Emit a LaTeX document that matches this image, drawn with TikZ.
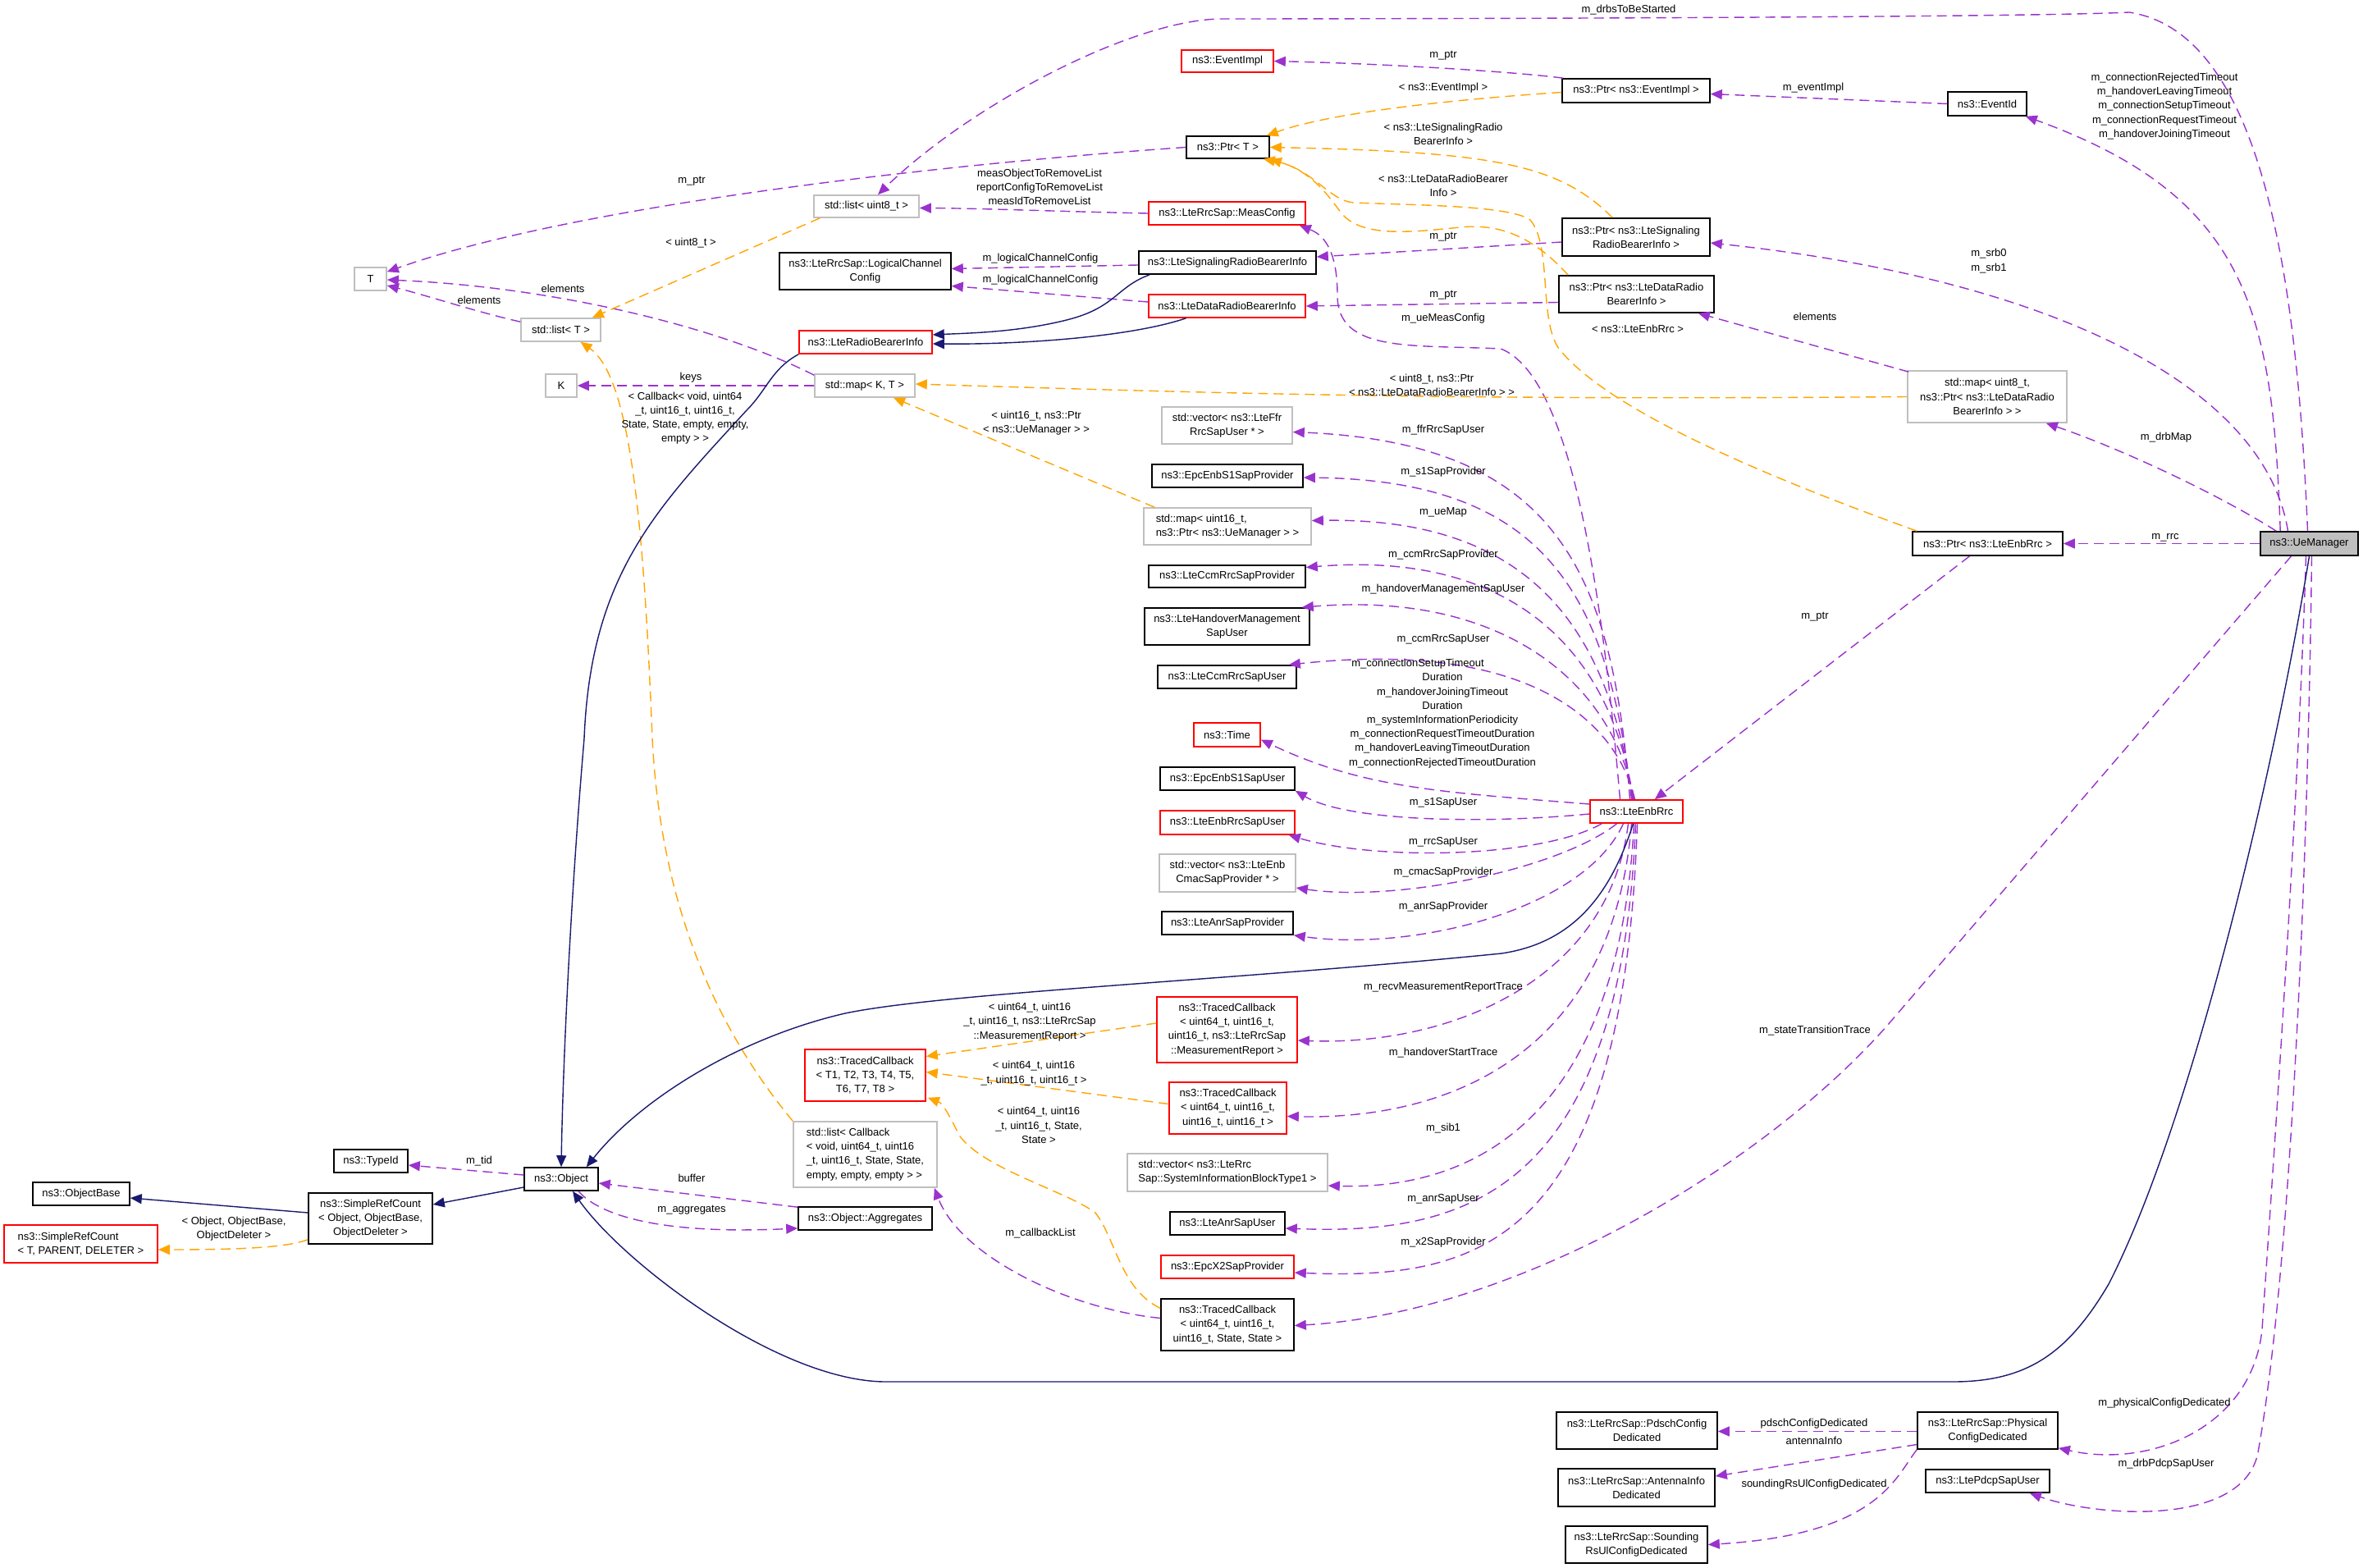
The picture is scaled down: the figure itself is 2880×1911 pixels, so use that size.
\documentclass[tikz,border=0pt]{standalone}
\usepackage{fontspec}
\setmainfont{Liberation Sans}
\usetikzlibrary{arrows.meta,calc}
\definecolor{ucol}{HTML}{9A32CD}
\definecolor{tcol}{HTML}{FFA500}
\definecolor{icol}{HTML}{191970}
\definecolor{gcol}{HTML}{BFBFBF}
\newcommand\dfont{\fontsize{6.5}{8.6}\selectfont}
\newcommand\bx[7]{%
 \pgfmathsetmacro\bxw{(#4-#2)*0.5}%
 \pgfmathsetmacro\bxh{(#5-#3)*0.5}%
 \pgfmathsetmacro\bxx{(#2+#4)/2}%
 \pgfmathsetmacro\bxy{(#3+#5)/2}%
 \node[#6, minimum width=\bxw pt, minimum height=\bxh pt] (#1) at (\bxx,\bxy) {#7};}
\tikzset{
 box/.style={draw, line width=0.8pt, inner sep=0pt, font=\dfont, align=center},
 blk/.style={box, draw=black},
 redb/.style={box, draw=red},
 grayb/.style={box, draw=gcol},
 lbl/.style={font=\dfont, align=center, inner sep=0pt},
 usedge/.style={draw=ucol, line width=0.7pt, dash pattern=on 6pt off 3.5pt, -{Triangle[length=7pt,width=6pt]}},
 tmpedge/.style={draw=tcol, line width=0.7pt, dash pattern=on 6pt off 3.5pt, -{Triangle[length=7pt,width=6pt]}},
 inhedge/.style={draw=icol, line width=0.7pt, -{Triangle[length=7pt,width=6pt]}}
}
\begin{document}
\begin{tikzpicture}[x=0.5pt,y=-0.5pt]
\fill[white] (0,0) rectangle (2880,1911);
\useasboundingbox (0,0) rectangle (2880,1911);
% ---------------- nodes
\bx{T}{432}{326}{471}{354}{grayb}{T}
\bx{listT}{635}{388}{732}{416}{grayb}{std::list< T >}
\bx{K}{665}{456}{703}{484}{grayb}{K}
\bx{mapKT}{993}{456}{1115}{484}{grayb}{std::map< K, T >}
\bx{list8}{992}{238}{1120}{265}{grayb}{std::list< uint8\_t >}
\bx{lcc}{950}{308}{1159}{353}{blk}{ns3::LteRrcSap::LogicalChannel\\Config}
\bx{lrbi}{974}{403}{1136}{431}{redb}{ns3::LteRadioBearerInfo}
\bx{evimpl}{1440}{61}{1552}{88}{redb}{ns3::EventImpl}
\bx{ptrT}{1446}{166}{1547}{193}{blk}{ns3::Ptr< T >}
\bx{meascfg}{1400}{246}{1591}{274}{redb}{ns3::LteRrcSap::MeasConfig}
\bx{lsrbi}{1388}{306}{1604}{334}{blk}{ns3::LteSignalingRadioBearerInfo}
\bx{ldrbi}{1400}{359}{1591}{387}{redb}{ns3::LteDataRadioBearerInfo}
\bx{vffr}{1416}{496}{1575}{541}{grayb}{std::vector< ns3::LteFfr\\RrcSapUser * >}
\bx{sprov}{1404}{566}{1588}{594}{blk}{ns3::EpcEnbS1SapProvider}
\bx{mapsixteen}{1394}{619}{1598}{664}{grayb,align=left}{std::map< uint16\_t,\\ ns3::Ptr< ns3::UeManager > >}
\bx{ccmprov}{1400}{689}{1591}{716}{blk}{ns3::LteCcmRrcSapProvider}
\bx{homsap}{1395}{741}{1596}{786}{blk}{ns3::LteHandoverManagement\\SapUser}
\bx{ccmuser}{1411}{811}{1580}{839}{blk}{ns3::LteCcmRrcSapUser}
\bx{time}{1455}{881}{1536}{910}{redb}{ns3::Time}
\bx{suser}{1414}{935}{1578}{963}{blk}{ns3::EpcEnbS1SapUser}
\bx{rrcuser}{1414}{988}{1578}{1017}{redb}{ns3::LteEnbRrcSapUser}
\bx{vcmac}{1413}{1041}{1579}{1087}{grayb}{std::vector< ns3::LteEnb\\CmacSapProvider * >}
\bx{anrprov}{1416}{1111}{1576}{1139}{blk}{ns3::LteAnrSapProvider}
\bx{tcmr}{1410}{1215}{1581}{1295}{redb}{ns3::TracedCallback\\< uint64\_t, uint16\_t,\\uint16\_t, ns3::LteRrcSap\\::MeasurementReport >}
\bx{tceight}{981}{1279}{1128}{1342}{redb}{ns3::TracedCallback\\< T1, T2, T3, T4, T5,\\T6, T7, T8 >}
\bx{tcho}{1425}{1319}{1568}{1382}{redb}{ns3::TracedCallback\\< uint64\_t, uint16\_t,\\uint16\_t, uint16\_t >}
\bx{lcb}{967}{1367}{1142}{1447}{grayb,align=left}{std::list< Callback\\< void, uint64\_t, uint16\\\_t, uint16\_t, State, State,\\ empty, empty, empty > >}
\bx{vsib}{1374}{1406}{1618}{1452}{grayb,align=left}{std::vector< ns3::LteRrc\\Sap::SystemInformationBlockType1 >}
\bx{agg}{973}{1471}{1136}{1499}{blk}{ns3::Object::Aggregates}
\bx{anruser}{1426}{1477}{1566}{1505}{blk}{ns3::LteAnrSapUser}
\bx{xprov}{1415}{1530}{1577}{1558}{redb}{ns3::EpcX2SapProvider}
\bx{tcst}{1415}{1583}{1577}{1646}{blk}{ns3::TracedCallback\\< uint64\_t, uint16\_t,\\uint16\_t, State, State >}
\bx{typeid}{407}{1401}{497}{1429}{blk}{ns3::TypeId}
\bx{object}{639}{1423}{729}{1451}{blk}{ns3::Object}
\bx{objbase}{40}{1441}{158}{1469}{blk}{ns3::ObjectBase}
\bx{src}{376}{1454}{527}{1516}{blk}{ns3::SimpleRefCount\\< Object, ObjectBase,\\ObjectDeleter >}
\bx{srcT}{5}{1493}{192}{1539}{redb,align=left}{ns3::SimpleRefCount\\< T, PARENT, DELETER >}
\bx{enbrrc}{1938}{975}{2051}{1003}{redb}{ns3::LteEnbRrc}
\bx{ptrev}{1904}{96}{2084}{125}{blk}{ns3::Ptr< ns3::EventImpl >}
\bx{eventid}{2374}{112}{2470}{141}{blk}{ns3::EventId}
\bx{ptrsig}{1904}{266}{2084}{312}{blk}{ns3::Ptr< ns3::LteSignaling\\RadioBearerInfo >}
\bx{ptrdata}{1900}{336}{2089}{381}{blk}{ns3::Ptr< ns3::LteDataRadio\\BearerInfo >}
\bx{mapeight}{2325}{452}{2519}{515}{grayb}{std::map< uint8\_t,\\ ns3::Ptr< ns3::LteDataRadio\\BearerInfo > >}
\bx{ptrrrc}{2331}{648}{2514}{677}{blk}{ns3::Ptr< ns3::LteEnbRrc >}
\bx{uem}{2755}{648}{2874}{677}{blk,fill=gcol}{ns3::UeManager}
\bx{pdsch}{1897}{1721}{2093}{1766}{blk}{ns3::LteRrcSap::PdschConfig\\Dedicated}
\bx{antenna}{1899}{1790}{2090}{1836}{blk}{ns3::LteRrcSap::AntennaInfo\\Dedicated}
\bx{sounding}{1908}{1860}{2081}{1905}{blk}{ns3::LteRrcSap::Sounding\\RsUlConfigDedicated}
\bx{phys}{2337}{1721}{2508}{1766}{blk}{ns3::LteRrcSap::Physical\\ConfigDedicated}
\bx{pdcp}{2347}{1791}{2498}{1819}{blk}{ns3::LtePdcpSapUser}
% ---------------- usage edges
\draw[usedge] (ptrT.west) .. controls (1150,200) and (700,250) .. ($(T.north east)+(0,6)$);
\draw[usedge] ($(listT.north west)+(0,5)$) .. controls (580,380) and (520,360) .. ($(T.east)+(0,8)$);
\draw[usedge] ($(mapKT.north west)+(0,2)$) .. controls (880,400) and (680,350) .. ($(T.east)+(0,1)$);
\draw[usedge] (mapKT.west) -- (K.east);
\draw[usedge] (meascfg.west) .. controls (1300,258) and (1200,254) .. ($(list8.east)+(0,2)$);
\draw[usedge] ($(uem.north)+(-2,0)$) .. controls (2800,350) and (2760,40) .. (2595,15) .. controls (2450,22) and (1600,23) .. (1490,23) .. controls (1380,23) and (1180,130) .. ($(list8.north)+(14,0)$);
\draw[usedge] ($(ptrev.north west)+(2,0)$) .. controls (1850,88) and (1700,78) .. (evimpl.east);
\draw[usedge] (eventid.west) -- ($(ptrev.east)+(0,4)$);
\draw[usedge] ($(uem.north west)+(25,0)$) .. controls (2770,380) and (2740,240) .. ($(eventid.south east)+(-2,0)$);
\draw[usedge] ($(ptrsig.west)+(0,6)$) -- ($(lsrbi.east)+(0,-7)$);
\draw[usedge] ($(lsrbi.west)+(0,3)$) -- ($(lcc.east)+(0,-3)$);
\draw[usedge] ($(ldrbi.west)+(0,-5)$) -- ($(lcc.east)+(0,18)$);
\draw[usedge] ($(ptrdata.west)+(0,10)$) -- (ldrbi.east);
\draw[usedge] ($(uem.north)+(-26,0)$) .. controls (2760,470) and (2500,340) .. ($(ptrsig.east)+(0,7)$);
\draw[usedge] ($(mapeight.north west)+(2,2)$) -- ($(ptrdata.south east)+(-20,0)$);
\draw[usedge] ($(uem.north west)+(20,0)$) .. controls (2700,600) and (2580,545) .. ($(mapeight.south east)+(-26,0)$);
\draw[usedge] (uem.west) -- (ptrrrc.east);
\draw[usedge] ($(ptrrrc.south)+(-22,0)$) -- ($(enbrrc.north east)+(-35,0)$);
\draw[usedge] ($(enbrrc.north)+(-20,0)$) .. controls (1955,750) and (1920,460) .. (1829,425) .. controls (1720,420) and (1630,430) .. (1630,360) .. controls (1630,300) and (1610,285) .. ($(meascfg.south east)+(-8,0)$);
\draw[usedge] ($(enbrrc.north)+(-8,0)$) .. controls (1965,700) and (1900,540) .. ($(vffr.east)+(0,8)$);
\draw[usedge] ($(enbrrc.north)+(-6,0)$) .. controls (1960,720) and (1880,585) .. ($(sprov.east)+(0,2)$);
\draw[usedge] ($(enbrrc.north)+(-5,0)$) .. controls (1960,760) and (1860,630) .. ($(mapsixteen.east)+(0,-7)$);
\draw[usedge] ($(enbrrc.north)+(-4,0)$) .. controls (1965,800) and (1850,670) .. ($(ccmprov.east)+(0,-11)$);
\draw[usedge] ($(enbrrc.north)+(-3,0)$) .. controls (1965,830) and (1830,720) .. ($(homsap.north east)+(-10,0)$);
\draw[usedge] ($(enbrrc.north)+(-2,0)$) .. controls (1968,870) and (1850,780) .. ($(ccmuser.north east)+(-10,0)$);
\draw[usedge] ($(enbrrc.west)+(0,-9)$) .. controls (1750,965) and (1660,960) .. ($(time.east)+(0,6)$);
\draw[usedge] ($(enbrrc.west)+(0,3)$) .. controls (1800,1005) and (1640,1000) .. (suser.south east);
\draw[usedge] ($(enbrrc.south west)+(15,0)$) .. controls (1880,1045) and (1680,1050) .. ($(rrcuser.south east)+(-8,0)$);
\draw[usedge] ($(enbrrc.south)+(-24,0)$) .. controls (1900,1060) and (1700,1100) .. ($(vcmac.east)+(0,18)$);
\draw[usedge] ($(enbrrc.south)+(-16,0)$) .. controls (1930,1110) and (1720,1160) .. (anrprov.south east);
\draw[usedge] ($(enbrrc.south)+(-10,0)$) .. controls (1960,1200) and (1760,1275) .. ($(tcmr.east)+(0,13)$);
\draw[usedge] ($(enbrrc.south)+(-6,0)$) .. controls (1965,1290) and (1760,1365) .. ($(tcho.east)+(0,10)$);
\draw[usedge] ($(enbrrc.south)+(-3,0)$) .. controls (1972,1380) and (1780,1450) .. ($(vsib.east)+(0,16)$);
\draw[usedge] ($(enbrrc.south)+(-1,0)$) .. controls (1975,1460) and (1780,1505) .. ($(anruser.east)+(0,6)$);
\draw[usedge] ($(enbrrc.south)+(1,0)$) .. controls (1978,1520) and (1800,1560) .. ($(xprov.east)+(0,7)$);
\draw[usedge] ($(uem.south)+(-22,0)$) -- (2300,1250) .. controls (2150,1420) and (1850,1600) .. ($(tcst.east)+(0,1)$);
\draw[usedge] ($(tcst.west)+(0,-8)$) .. controls (1300,1595) and (1170,1530) .. ($(lcb.south east)+(-4,0)$);
\draw[usedge] ($(object.west)+(0,-5)$) -- ($(typeid.east)+(0,5)$);
\draw[usedge] ($(agg.north west)+(0,1)$) -- ($(object.east)+(0,5)$);
\draw[usedge] ($(object.south)+(21,0)$) .. controls (730,1480) and (800,1505) .. ($(agg.west)+(0,12)$);
\draw[usedge] ($(phys.west)+(0,1)$) -- ($(pdsch.east)+(0,1)$);
\draw[usedge] ($(phys.west)+(0,17)$) -- ($(antenna.east)+(0,-14)$);
\draw[usedge] (phys.south west) .. controls (2310,1800) and (2290,1870) .. (sounding.east);
\draw[usedge] ($(uem.south)+(-4,0)$) .. controls (2800,1000) and (2772,1400) .. (2757,1620) .. controls (2745,1740) and (2620,1790) .. ($(phys.south east)+(0,-2)$);
\draw[usedge] ($(uem.south)+(3,0)$) .. controls (2812,1100) and (2790,1560) .. (2752,1770) .. controls (2735,1860) and (2560,1850) .. ($(pdcp.south east)+(-25,0)$);
% ---------------- template edges
\draw[tmpedge] ($(ptrev.west)+(0,2)$) .. controls (1760,122) and (1620,138) .. ($(ptrT.north east)+(-4,0)$);
\draw[tmpedge] ($(ptrsig.north west)+(62,0)$) .. controls (1900,200) and (1820,185) .. (ptrT.east);
\draw[tmpedge] ($(ptrdata.north west)+(12,0)$) .. controls (1870,290) and (1830,272) .. (1780,277) .. controls (1720,283) and (1660,290) .. (1635,260) .. controls (1620,240) and (1600,210) .. (ptrT.south east);
\draw[tmpedge] ($(ptrrrc.north west)+(6,0)$) .. controls (2150,580) and (1960,500) .. (1900,425) .. controls (1875,390) and (1892,300) .. (1865,268) .. controls (1840,250) and (1720,250) .. (1650,247) .. controls (1620,245) and (1600,205) .. ($(ptrT.south east)+(-8,0)$);
\draw[tmpedge] (mapeight.west) .. controls (1800,488) and (1500,480) .. ($(mapKT.east)+(0,-2)$);
\draw[tmpedge] ($(mapsixteen.north west)+(14,0)$) -- ($(mapKT.south)+(35,0)$);
\draw[tmpedge] ($(list8.south west)+(8,0)$) -- ($(listT.north east)+(-11,0)$);
\draw[tmpedge] (lcb.north west) .. controls (870,1250) and (805,1100) .. (795,900) .. controls (785,650) and (770,460) .. ($(listT.south)+(24,0)$);
\draw[tmpedge] ($(tcmr.west)+(0,-8)$) -- ($(tceight.east)+(0,-23)$);
\draw[tmpedge] ($(tcho.west)+(0,-5)$) -- ($(tceight.east)+(0,-4)$);
\draw[tmpedge] ($(tcst.west)+(0,-20)$) .. controls (1365,1570) and (1360,1510) .. (1335,1478) .. controls (1300,1452) and (1200,1425) .. (1170,1385) .. controls (1158,1362) and (1150,1345) .. ($(tceight.south east)+(2,-5)$);
\draw[tmpedge] ($(src.south west)+(0,-6)$) .. controls (350,1520) and (300,1523) .. ($(srcT.east)+(0,7)$);
% ---------------- inheritance edges
\draw[inhedge] ($(lsrbi.south west)+(14,0)$) .. controls (1360,350) and (1360,375) .. (1300,390) .. controls (1240,405) and (1180,406) .. ($(lrbi.east)+(0,-9)$);
\draw[inhedge] ($(ldrbi.south)+(-50,0)$) .. controls (1380,410) and (1250,420) .. ($(lrbi.east)+(0,2)$);
\draw[inhedge] (lrbi.south west) .. controls (940,450) and (935,475) .. (910,500) .. controls (800,620) and (720,700) .. (712,900) .. controls (695,1100) and (686,1300) .. (object.north);
\draw[inhedge] ($(enbrrc.south)+(-4,0)$) .. controls (1960,1100) and (1910,1150) .. (1830,1162) .. controls (1500,1195) and (1150,1210) .. (1030,1235) .. controls (900,1265) and (780,1340) .. ($(object.north east)+(-15,0)$);
\draw[inhedge] (uem.south) .. controls (2770,950) and (2670,1370) .. (2570,1565) .. controls (2520,1650) and (2470,1684) .. (2380,1684) -- (1080,1684) .. controls (950,1684) and (760,1540) .. ($(object.south)+(14,0)$);
\draw[inhedge] ($(object.west)+(0,10)$) -- ($(src.east)+(0,-17)$);
\draw[inhedge] ($(src.west)+(0,-7)$) -- ($(objbase.east)+(0,5)$);
% ---------------- labels
\node[lbl] (l1) at (843,221) {m\_ptr};
\node[lbl] (l2) at (842,296) {< uint8\_t >};
\node[lbl] (l3) at (686,352) {elements};
\node[lbl] (l4) at (584,366) {elements};
\node[lbl] (l5) at (842,460) {keys};
\node[lbl] (l6) at (835,509.5) {< Callback< void, uint64\\\_t, uint16\_t, uint16\_t,\\State, State, empty, empty,\\empty > >};
\node[lbl] (l7) at (1267,228) {measObjectToRemoveList\\reportConfigToRemoveList\\measIdToRemoveList};
\node[lbl] (l8) at (1268,315) {m\_logicalChannelConfig};
\node[lbl] (l9) at (1268,341) {m\_logicalChannelConfig};
\node[lbl] (l10) at (1759,68) {m\_ptr};
\node[lbl] (l11) at (1759,107) {< ns3::EventImpl >};
\node[lbl] (l12) at (1759,163.5) {< ns3::LteSignalingRadio\\BearerInfo >};
\node[lbl] (l13) at (1759,226.5) {< ns3::LteDataRadioBearer\\Info >};
\node[lbl] (l14) at (1759,289) {m\_ptr};
\node[lbl] (l15) at (1759,360) {m\_ptr};
\node[lbl] (l16) at (1759,388) {m\_ueMeasConfig};
\node[lbl] (l17) at (1745,469.5) {< uint8\_t, ns3::Ptr\\< ns3::LteDataRadioBearerInfo > >};
\node[lbl] (l18) at (1263,515.5) {< uint16\_t, ns3::Ptr\\< ns3::UeManager > >};
\node[lbl] (l19) at (1759,524) {m\_ffrRrcSapUser};
\node[lbl] (l20) at (1759,575) {m\_s1SapProvider};
\node[lbl] (l21) at (1759,624) {m\_ueMap};
\node[lbl] (l22) at (1759,676) {m\_ccmRrcSapProvider};
\node[lbl] (l23) at (1759,718) {m\_handoverManagementSapUser};
\node[lbl] (l24) at (1759,779) {m\_ccmRrcSapUser};
\node[lbl] (l25) at (1758,869.5) {m\_connectionSetupTimeout\hspace*{30pt}\\Duration\\m\_handoverJoiningTimeout\hspace*{36pt}\\Duration\\m\_systemInformationPeriodicity\\m\_connectionRequestTimeoutDuration\\m\_handoverLeavingTimeoutDuration\\m\_connectionRejectedTimeoutDuration};
\node[lbl] (l26) at (1759,978) {m\_s1SapUser};
\node[lbl] (l27) at (1759,1026) {m\_rrcSapUser};
\node[lbl] (l28) at (1759,1063) {m\_cmacSapProvider};
\node[lbl] (l29) at (1759,1105) {m\_anrSapProvider};
\node[lbl] (l30) at (1759,1203) {m\_recvMeasurementReportTrace};
\node[lbl] (l31) at (1759,1283) {m\_handoverStartTrace};
\node[lbl] (l32) at (1255,1245.5) {< uint64\_t, uint16\\\_t, uint16\_t, ns3::LteRrcSap\\::MeasurementReport >};
\node[lbl] (l33) at (1260,1308) {< uint64\_t, uint16\\\_t, uint16\_t, uint16\_t >};
\node[lbl] (l34) at (1266,1371.5) {< uint64\_t, uint16\\\_t, uint16\_t, State,\\State >};
\node[lbl] (l35) at (1759,1375) {m\_sib1};
\node[lbl] (l36) at (1759,1461) {m\_anrSapUser};
\node[lbl] (l37) at (1759,1514) {m\_x2SapProvider};
\node[lbl] (l38) at (1268,1503) {m\_callbackList};
\node[lbl] (l39) at (1985,12) {m\_drbsToBeStarted};
\node[lbl] (l40) at (2210,107) {m\_eventImpl};
\node[lbl] (l41) at (2638,129.5) {m\_connectionRejectedTimeout\\m\_handoverLeavingTimeout\\m\_connectionSetupTimeout\\m\_connectionRequestTimeout\\m\_handoverJoiningTimeout};
\node[lbl] (l42) at (2424,318) {m\_srb0\\m\_srb1};
\node[lbl] (l43) at (2212,386) {elements};
\node[lbl] (l44) at (1996,401) {< ns3::LteEnbRrc >};
\node[lbl] (l45) at (2640,533) {m\_drbMap};
\node[lbl] (l46) at (2639,655) {m\_rrc};
\node[lbl] (l47) at (2212,752) {m\_ptr};
\node[lbl] (l48) at (2212,1256) {m\_stateTransitionTrace};
\node[lbl] (l49) at (584,1415) {m\_tid};
\node[lbl] (l50) at (843,1436) {buffer};
\node[lbl] (l51) at (843,1475) {m\_aggregates};
\node[lbl] (l52) at (285,1498) {< Object, ObjectBase,\\ObjectDeleter >};
\node[lbl] (l53) at (2638,1710) {m\_physicalConfigDedicated};
\node[lbl] (l54) at (2211,1735) {pdschConfigDedicated};
\node[lbl] (l55) at (2211,1756) {antennaInfo};
\node[lbl] (l56) at (2211,1809) {soundingRsUlConfigDedicated};
\node[lbl] (l57) at (2640,1784) {m\_drbPdcpSapUser};
\end{tikzpicture}
\end{document}
